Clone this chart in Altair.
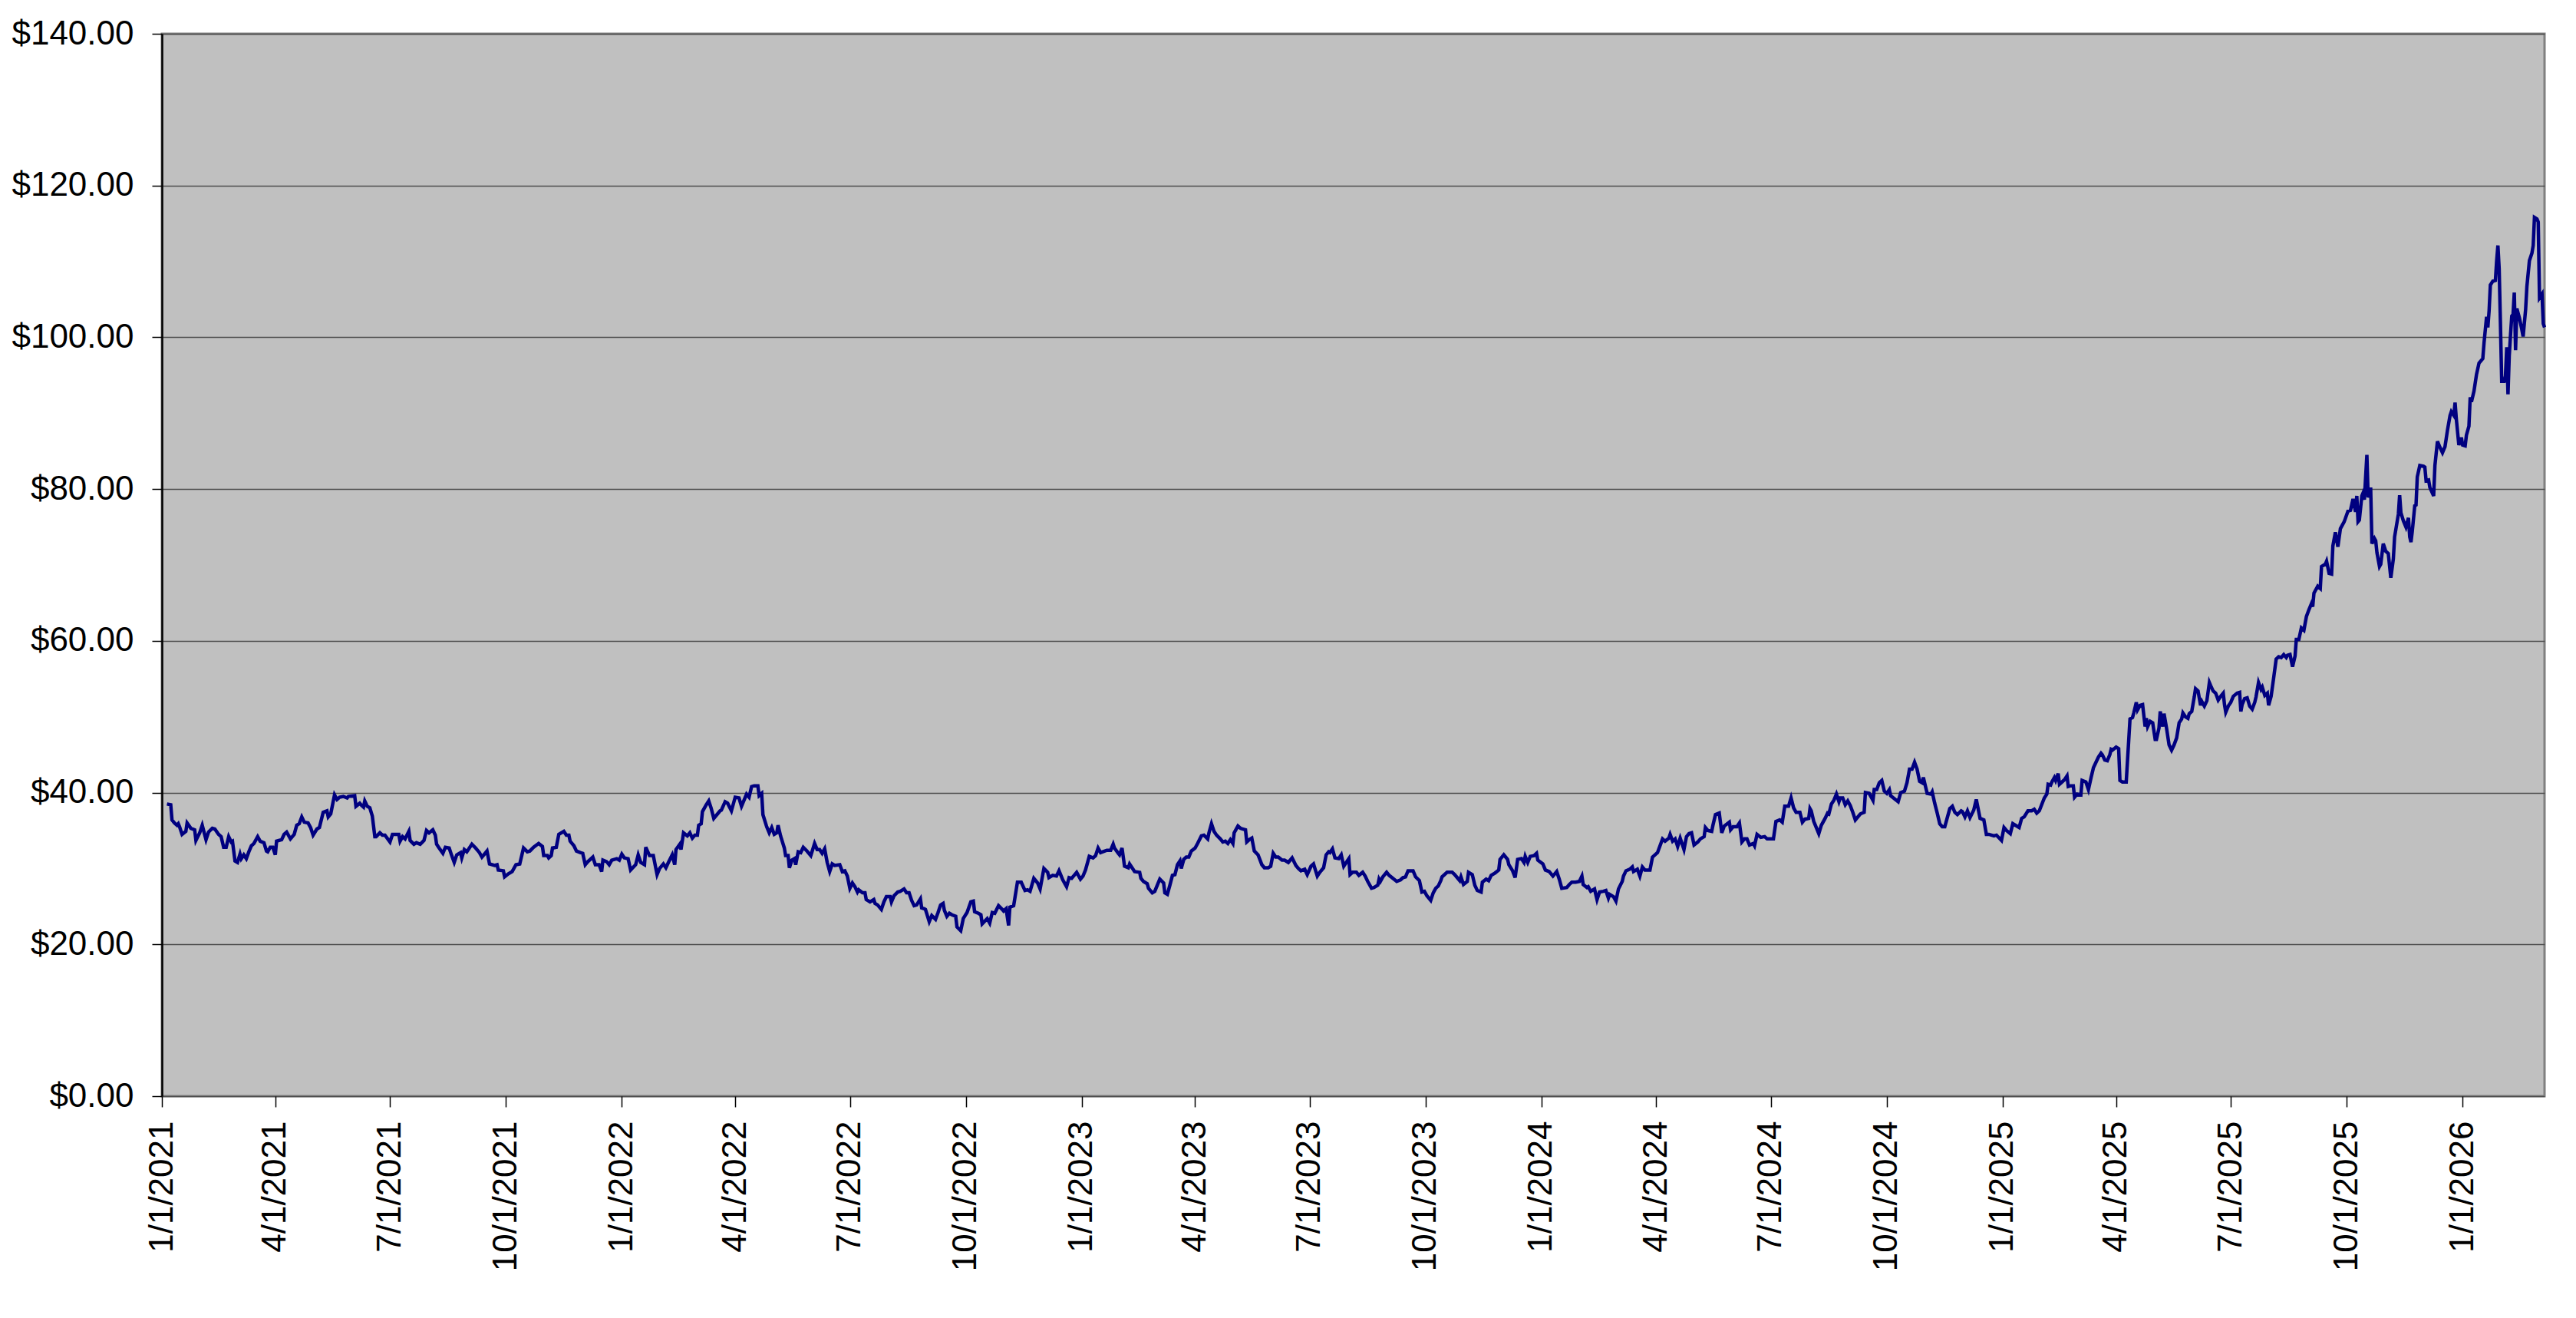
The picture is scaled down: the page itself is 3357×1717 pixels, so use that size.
import altair as alt
import pandas as pd

START = "2021-01-01"

# ---- data: trading day offsets (days since 1/1/2021) and closing prices ----
days_2021 = [4, 7, 8, 10, 12, 13, 14, 16, 19, 20, 23, 26, 27, 30, 32, 35, 37, 40, 42, 45, 47, 49, 51, 53, 55, 56,
             58, 60, 62, 63, 65, 67, 69, 71, 73, 76, 78, 81, 83, 84, 86, 88, 90, 91, 95, 97, 99, 102, 105, 107, 109,
             111, 113, 116, 118, 120, 123, 125, 128, 131, 132, 134, 137, 139, 141, 144, 147, 148, 153, 154, 157,
             158, 160, 161, 163, 165, 167, 169, 170, 173, 175, 177, 181, 183, 188, 189, 191, 193, 196, 197, 200,
             202, 205, 208, 210, 212, 215, 217, 218, 220, 223, 225, 228, 230, 232, 234, 237, 238, 240, 242, 244,
             246, 249, 252, 254, 258, 260, 264, 266, 267, 271, 272, 275, 278, 281, 284, 287, 290, 292, 295, 299,
             302, 303, 306, 307, 309, 310, 313, 315, 319, 321, 323, 324, 327, 329, 332, 334, 336, 338, 342, 344,
             347, 349, 350, 353, 355, 357, 361, 363, 365, 367, 370, 372]
prices_2021 = [38.5, 38.4, 36.4, 36.0, 35.7, 35.9, 35.5, 34.5, 34.9, 36.0, 35.3, 35.1, 33.7, 34.7, 35.7, 33.8, 34.8,
               35.3, 35.2, 34.5, 34.2, 32.8, 32.8, 34.2, 33.5, 33.6, 31.0, 30.8, 31.9, 31.3, 31.8, 31.3, 32.2, 33.0,
               33.3, 34.2, 33.6, 33.4, 32.3, 32.2, 32.8, 32.8, 31.8, 33.6, 33.8, 34.5, 34.8, 33.9, 34.5, 35.7, 35.9,
               36.8, 36.1, 36.0, 35.4, 34.4, 35.2, 35.4, 37.4, 37.6, 36.8, 37.2, 39.7, 39.1, 39.4, 39.5, 39.3, 39.5,
               39.6, 38.2, 38.6, 38.4, 38.1, 38.9, 38.2, 38.0, 36.9, 34.2, 34.2, 34.7, 34.4, 34.4, 33.5, 34.5, 34.5,
               33.6, 34.2, 33.9, 34.9, 33.7, 33.2, 33.4, 33.2, 33.7, 35.0, 34.7, 35.1, 34.4, 33.2, 32.7, 32.0, 32.8,
               32.7, 31.7, 30.8, 31.8, 32.1, 31.4, 32.5, 32.2, 32.7, 33.2, 32.7, 32.1, 31.5, 32.3, 30.6, 30.4, 30.5,
               29.8, 29.7, 28.9, 29.3, 29.6, 30.5, 30.6, 32.7, 32.2, 32.3, 32.8, 33.3, 32.9, 31.7, 31.7, 31.4, 31.7,
               32.7, 32.8, 34.5, 34.9, 34.4, 34.4, 33.6, 33.0, 32.3, 32.1, 32.0, 30.5, 30.9, 31.5, 30.5, 30.5, 29.6,
               31.1, 30.9, 30.5, 31.1, 31.3, 31.1, 31.9, 31.4, 31.3, 29.8]

days_2022 = [376, 378, 380, 383, 384, 387, 390, 393, 395, 398, 400, 402, 405, 407, 408, 411, 412, 414, 417, 419, 421,
             423, 425, 426, 428, 429, 432, 434, 436, 438, 441, 443, 444, 447, 449, 452, 455, 458, 460, 464, 466, 468,
             470, 473, 474, 476, 477, 480, 482, 484, 486, 488, 489, 491, 494, 495, 497, 498, 500, 502, 503, 505, 507,
             509, 512, 515, 518, 520, 522, 524, 526, 528, 530, 532, 534, 538, 540, 542, 544, 546, 548, 550, 552, 553,
             556, 558, 559, 562, 565, 566, 568, 571, 573, 575, 578, 579, 581, 584, 586, 589, 591, 593, 595, 597, 599,
             602, 603, 605, 606, 609, 611, 614, 616, 618, 620, 621, 623, 625, 627, 630, 631, 634, 636, 639, 642, 644,
             645, 648, 650, 651, 655, 657, 659, 661, 664, 667, 668, 670, 672, 673, 676, 679, 682, 685, 687, 689, 692,
             695, 697, 700, 703, 704, 707, 710, 712, 715, 718, 720, 722, 724, 726, 729, 731, 733, 735, 736, 739, 741,
             743, 745]
prices_2022 = [30.5, 31.8, 30.8, 30.5, 32.8, 31.7, 31.7, 29.2, 30.0, 30.6, 30.1, 30.8, 31.8, 30.5, 32.5, 33.2, 32.5,
               34.7, 34.3, 34.7, 34.0, 34.4, 34.4, 35.7, 35.9, 37.5, 38.4, 38.9, 37.9, 36.6, 37.2, 37.6, 37.7, 38.8,
               38.6, 37.6, 39.4, 39.3, 38.2, 39.8, 39.4, 40.8, 40.9, 40.9, 39.6, 39.9, 37.1, 35.5, 34.7, 35.4, 34.5,
               34.7, 35.7, 34.3, 32.7, 31.7, 31.7, 30.1, 31.1, 31.3, 30.5, 32.2, 32.1, 32.8, 32.3, 31.7, 33.3, 32.5,
               32.5, 32.0, 32.6, 30.8, 29.6, 30.6, 30.4, 30.5, 29.6, 29.7, 29.0, 27.4, 28.1, 27.6, 26.9, 27.2, 26.8,
               26.8, 25.9, 25.6, 25.9, 25.4, 25.2, 24.6, 25.6, 26.3, 26.3, 25.6, 26.4, 26.9, 27.0, 27.3, 26.8, 26.8,
               25.8, 25.1, 25.2, 26.0, 24.8, 24.7, 24.6, 23.0, 23.8, 23.3, 24.2, 25.2, 25.4, 24.5, 23.7, 24.1, 23.9,
               23.7, 22.3, 21.8, 23.4, 24.2, 25.6, 25.7, 24.3, 24.1, 23.9, 22.7, 23.4, 22.8, 24.2, 24.1, 25.1, 24.6,
               24.4, 24.7, 22.5, 24.9, 25.1, 28.2, 28.2, 27.1, 27.2, 27.0, 28.7, 28.1, 27.3, 30.0, 29.5, 28.8, 29.1,
               29.0, 29.7, 28.5, 27.6, 28.8, 28.7, 29.1, 29.5, 28.6, 29.0, 29.8, 31.0, 31.6, 31.4, 31.7, 32.7, 32.1]

days_2023 = [750, 753, 755, 756, 759, 760, 762, 764, 767, 768, 770, 772, 776, 777, 779, 782, 783, 786, 788, 791, 792,
             795, 796, 798, 800, 802, 804, 806, 808, 809, 811, 813, 815, 817, 820, 822, 825, 827, 830, 831, 833, 835,
             837, 840, 842, 844, 846, 848, 850, 851, 854, 856, 860, 861, 863, 865, 867, 870, 873, 875, 878, 880, 882,
             884, 886, 889, 891, 894, 897, 900, 902, 904, 907, 909, 912, 914, 917, 919, 922, 924, 926, 927, 929, 931,
             934, 936, 938, 940, 942, 943, 945, 948, 950, 953, 955, 957, 960, 962, 965, 966, 967, 969, 972, 974, 977,
             980, 983, 985, 987, 989, 993, 995, 998, 1000, 1002, 1004, 1007, 1009, 1011, 1013, 1015, 1016, 1020,
             1024, 1026, 1028, 1030, 1031, 1033, 1036, 1037, 1040, 1042, 1044, 1047, 1048, 1051, 1053, 1055, 1058,
             1061, 1062, 1065, 1068, 1069, 1072, 1074, 1076, 1079, 1081, 1082, 1084, 1086, 1089, 1091, 1092, 1096,
             1098, 1101, 1104, 1107, 1109, 1111, 1115, 1117, 1119]
prices_2023 = [32.4, 32.4, 33.2, 32.7, 32.0, 31.8, 32.7, 30.3, 30.1, 30.6, 30.1, 29.6, 29.5, 28.7, 28.3, 28.0, 27.4,
               26.8, 27.0, 28.2, 28.6, 28.1, 26.8, 26.6, 27.8, 29.1, 29.2, 30.5, 31.0, 30.0, 31.2, 31.5, 31.5, 32.3,
               32.7, 33.3, 34.3, 34.4, 33.9, 34.7, 35.9, 34.9, 34.4, 33.9, 33.5, 33.6, 33.3, 33.8, 33.3, 34.7, 35.6,
               35.3, 35.1, 33.5, 33.8, 34.0, 32.3, 31.8, 30.5, 30.1, 30.1, 30.3, 32.0, 31.5, 31.5, 31.1, 31.1, 30.8,
               31.4, 30.4, 30.0, 29.7, 29.9, 29.2, 30.3, 30.6, 29.0, 29.5, 30.1, 31.8, 32.2, 32.1, 32.6, 31.4, 31.3,
               31.8, 30.3, 30.8, 31.3, 29.2, 29.5, 29.5, 29.1, 29.5, 29.0, 28.3, 27.4, 27.5, 27.8, 28.6, 28.3, 28.9,
               29.5, 29.1, 28.7, 28.3, 28.5, 28.8, 28.9, 29.7, 29.7, 28.9, 28.4, 26.9, 27.0, 26.4, 25.8, 26.8, 27.4,
               27.7, 28.4, 28.9, 29.5, 29.5, 29.2, 28.8, 28.4, 28.9, 27.9, 28.3, 29.5, 29.2, 27.8, 27.1, 26.9, 28.2,
               28.6, 28.4, 29.1, 29.4, 29.8, 31.2, 31.8, 31.2, 30.5, 29.7, 28.8, 31.2, 31.3, 30.8, 31.6, 30.8, 31.6,
               31.7, 32.0, 31.1, 30.6, 29.8, 29.6, 29.0, 29.6, 28.6, 27.4, 27.5, 27.9, 28.2]

days_2024 = [1122, 1125, 1127, 1128, 1131, 1132, 1134, 1137, 1139, 1141, 1144, 1146, 1148, 1149, 1152, 1154, 1156,
             1159, 1160, 1162, 1165, 1167, 1168, 1171, 1173, 1175, 1177, 1181, 1183, 1185, 1187, 1189, 1191, 1193,
             1196, 1197, 1199, 1201, 1203, 1205, 1208, 1210, 1212, 1214, 1216, 1219, 1221, 1224, 1225, 1227, 1230,
             1231, 1233, 1236, 1238, 1240, 1244, 1245, 1247, 1250, 1252, 1254, 1256, 1258, 1260, 1263, 1264, 1266,
             1269, 1272, 1274, 1277, 1279, 1281, 1284, 1286, 1288, 1291, 1293, 1295, 1297, 1300, 1302, 1304, 1307,
             1308, 1309, 1311, 1315, 1317, 1320, 1322, 1323, 1325, 1327, 1329, 1331, 1332, 1334, 1336, 1338, 1340,
             1342, 1344, 1348, 1351, 1352, 1355, 1358, 1359, 1361, 1363, 1365, 1367, 1369, 1371, 1372, 1375, 1378,
             1380, 1383, 1385, 1387, 1389, 1391, 1393, 1395, 1397, 1398, 1399, 1401, 1404, 1405, 1407, 1409, 1411,
             1413, 1415, 1417, 1419, 1421, 1423, 1425, 1428, 1429, 1431, 1433, 1435, 1438, 1440, 1443, 1446, 1448,
             1450, 1454, 1456, 1460, 1462, 1464, 1467, 1469, 1474, 1476, 1478, 1481, 1484, 1486, 1488, 1490]
prices_2024 = [28.2, 28.3, 29.0, 27.9, 27.5, 27.6, 27.0, 27.3, 25.9, 26.9, 27.0, 27.1, 26.1, 26.6, 26.3, 25.7, 27.3,
               28.3, 29.0, 29.7, 29.9, 30.2, 29.6, 29.9, 29.0, 30.2, 29.8, 29.8, 31.5, 31.8, 32.1, 33.0, 33.9, 33.6,
               34.0, 34.5, 33.6, 33.9, 32.9, 34.0, 32.5, 34.2, 34.6, 34.7, 33.1, 33.5, 33.9, 34.2, 35.4, 35.0, 34.9,
               35.7, 37.1, 37.3, 34.7, 35.6, 36.1, 35.1, 35.5, 35.5, 36.0, 33.5, 33.9, 33.9, 33.1, 33.3, 33.0, 34.5,
               34.1, 34.2, 33.9, 33.9, 33.9, 36.2, 36.4, 36.1, 38.2, 38.2, 39.3, 38.0, 37.4, 37.4, 36.1, 36.5, 36.6,
               37.9, 37.6, 36.2, 34.6, 35.7, 36.6, 37.3, 37.2, 38.5, 39.0, 39.8, 38.8, 39.3, 39.3, 38.4, 38.9, 38.3,
               37.4, 36.4, 37.2, 37.4, 40.0, 39.9, 39.0, 40.4, 40.4, 41.3, 41.6, 40.2, 39.9, 40.4, 39.6, 39.2, 38.8,
               40.0, 40.2, 41.3, 43.1, 43.1, 44.0, 43.1, 41.5, 41.3, 42.0, 41.3, 39.9, 39.8, 40.1, 38.6, 37.3, 35.9,
               35.5, 35.5, 36.7, 37.9, 38.2, 37.4, 37.1, 37.6, 37.5, 36.8, 37.6, 36.7, 37.7, 39.1, 36.6, 36.4, 34.5,
               34.5, 34.3, 34.4, 33.7, 35.4, 35.0, 34.6, 35.9, 35.4, 36.6, 36.8, 37.6, 37.6, 37.8, 37.3, 37.6]

days_2025 = [1494, 1496, 1497, 1499, 1500, 1502, 1503, 1505, 1506, 1508, 1510, 1512, 1513, 1515, 1517, 1518, 1520,
             1523, 1524, 1527, 1529, 1531, 1533, 1535, 1537, 1539, 1540, 1542, 1544, 1546, 1547, 1548, 1551, 1553,
             1554, 1556, 1559, 1562, 1564, 1565, 1567, 1568, 1570, 1572, 1574, 1575, 1576, 1578, 1580, 1582, 1583,
             1585, 1586, 1588, 1589, 1591, 1593, 1595, 1597, 1599, 1601, 1603, 1604, 1606, 1608, 1609, 1611, 1613,
             1614, 1616, 1618, 1619, 1621, 1623, 1625, 1626, 1628, 1630, 1632, 1634, 1636, 1637, 1638, 1640, 1642,
             1644, 1647, 1649, 1650, 1651, 1653, 1655, 1657, 1659, 1661, 1662, 1664, 1666, 1667, 1669, 1671, 1672,
             1674, 1676, 1678, 1680, 1682, 1684, 1686, 1687, 1689, 1691, 1693]
prices_2025 = [39.3, 39.8, 41.1, 41.0, 41.4, 42.0, 41.6, 42.5, 41.1, 41.4, 41.7, 42.2, 40.8, 40.9, 40.9, 39.4, 39.8,
               39.7, 41.6, 41.4, 40.4, 41.9, 43.3, 44.0, 44.7, 45.2, 45.0, 44.3, 44.2, 45.0, 45.7, 45.6, 46.0, 45.8,
               41.6, 41.4, 41.4, 49.7, 49.9, 50.5, 51.9, 50.9, 51.5, 51.6, 48.7, 49.8, 48.7, 49.4, 49.2, 47.0, 47.0,
               48.5, 50.7, 48.7, 50.4, 48.5, 46.3, 45.6, 46.3, 47.2, 49.2, 49.7, 50.5, 50.0, 49.8, 50.4, 50.7, 52.6,
               53.7, 53.4, 51.5, 52.0, 51.4, 52.1, 54.5, 54.1, 53.4, 53.1, 52.2, 52.7, 53.1, 51.6, 50.6, 51.4, 51.9,
               52.7, 53.1, 53.2, 50.7, 51.6, 52.4, 52.5, 51.4, 51.0, 51.9, 52.6, 54.5, 53.6, 53.9, 52.8, 53.1, 51.5,
               52.7, 55.1, 57.6, 57.9, 57.8, 58.2, 57.8, 58.1, 58.2, 56.6, 58.0]

days_late = [1694, 1696, 1698, 1700, 1702, 1704, 1706, 1707, 1708, 1711, 1713, 1714, 1717, 1718, 1720, 1722, 1723,
             1725, 1727, 1729, 1732, 1735, 1737, 1739, 1741, 1742, 1743, 1744, 1746, 1747, 1748, 1750, 1751, 1752,
             1753, 1754, 1756, 1757, 1758, 1760, 1761, 1763, 1765, 1767, 1769, 1771, 1772, 1775, 1776, 1777, 1779,
             1781, 1783, 1784, 1785, 1786, 1788, 1789, 1790, 1792, 1795]
prices_late = [60.2, 60.2, 61.7, 61.4, 63.2, 64.1, 64.9, 64.5, 66.3, 67.2, 66.9, 69.8, 70.1, 70.5, 68.9, 68.8, 72.5,
               74.3, 72.4, 74.8, 75.7, 77.1, 77.2, 78.7, 77.0, 79.1, 75.7, 75.9, 79.1, 79.5, 78.6, 84.5, 78.9, 79.4,
               80.2, 72.8, 73.5, 73.2, 71.6, 69.8, 70.1, 72.8, 71.8, 71.5, 68.3, 70.8, 73.7, 76.7, 79.2, 76.9, 75.8,
               75.0, 76.2, 73.7, 73.0, 74.4, 77.8, 77.9, 81.6, 83.1, 83.0]

days_2026 = [1796, 1797, 1799, 1800, 1803, 1804, 1806, 1808, 1810, 1812, 1814, 1816, 1817, 1819, 1820, 1821, 1823,
             1825, 1826, 1828, 1829, 1831, 1832, 1833, 1835, 1837, 1839, 1842, 1843, 1844, 1845, 1846, 1847, 1848,
             1850, 1852, 1853, 1854, 1855, 1856, 1857, 1859, 1860, 1861, 1862, 1863, 1864, 1865, 1866, 1867, 1868,
             1869, 1871, 1873, 1874, 1876, 1877, 1879, 1881, 1882, 1883, 1885, 1886, 1887, 1889, 1890, 1891]
prices_2026 = [82.9, 81.1, 81.2, 80.2, 79.1, 83.1, 86.3, 85.5, 84.8, 85.6, 87.8, 89.7, 90.2, 89.7, 91.4, 89.2, 85.8,
               86.8, 85.8, 85.7, 87.1, 88.3, 92.1, 91.5, 92.9, 95.1, 96.6, 97.2, 99.3, 101.0, 102.7, 101.3, 103.5,
               106.9, 107.4, 107.5, 110.1, 112.1, 109.0, 101.8, 94.2, 94.2, 94.9, 98.7, 92.5, 97.6, 100.3, 102.8,
               103.0, 105.9, 98.3, 103.8, 102.6, 101.0, 100.1, 103.7, 106.7, 110.1, 111.1, 112.1, 115.8, 115.6,
               115.2, 105.2, 105.7, 101.8, 101.3]

# axis tick labels (quarter starts) and y ticks
quarter_ticks = [(2021, 1), (2021, 4), (2021, 7), (2021, 10), (2022, 1), (2022, 4), (2022, 7), (2022, 10),
                 (2023, 1), (2023, 4), (2023, 7), (2023, 10), (2024, 1), (2024, 4), (2024, 7), (2024, 10),
                 (2025, 1), (2025, 4), (2025, 7), (2025, 10), (2026, 1)]
y_ticks = [0, 20, 40, 60, 80, 100, 120, 140]

all_days = days_2021 + days_2022 + days_2023 + days_2024 + days_2025 + days_late + days_2026
all_prices = prices_2021 + prices_2022 + prices_2023 + prices_2024 + prices_2025 + prices_late + prices_2026

dates = pd.Timestamp(START) + pd.to_timedelta(all_days, unit="D")
df = pd.DataFrame({
    "date": [d.strftime("%Y-%m-%dT%H:%M:%S") for d in dates],
    "price": all_prices,
})

FONT = "Liberation Sans"

x_axis = alt.Axis(
    title=None,
    values=[alt.DateTime(year=y, month=m, date=1) for y, m in quarter_ticks],
    format="%-m/%-d/%Y",
    labelAngle=-90,
    labelAlign="right",
    labelBaseline="middle",
    labelFont=FONT,
    labelFontSize=44,
    labelColor="black",
    labelPadding=18,
    labelLimit=1000,
    labelFlush=False,
    labelOverlap=False,
    labelBound=False,
    tickColor="black",
    tickSize=14,
    tickWidth=1.5,
    domain=False,
    grid=False,
)

y_axis = alt.Axis(
    title=None,
    values=y_ticks,
    format="$.2f",
    labelFont=FONT,
    labelFontSize=44,
    labelColor="black",
    labelPadding=24,
    labelLimit=1000,
    labelFlush=False,
    labelOverlap=False,
    tickColor="black",
    tickSize=13,
    tickWidth=1.5,
    domain=True,
    domainColor="black",
    domainWidth=2.5,
    grid=True,
    gridColor="#4d4d4d",
    gridWidth=1.5,
)

chart = alt.Chart(df).mark_line(color="#000080", strokeWidth=4.5, strokeJoin="miter").encode(
    x=alt.X("date:T", axis=x_axis,
            scale=alt.Scale(domain=[alt.DateTime(year=2021, month=1, date=1),
                                    alt.DateTime(year=2026, month=3, date=7)], nice=False)),
    y=alt.Y("price:Q", axis=y_axis, scale=alt.Scale(domain=[0, 140], nice=False, zero=True)),
).properties(
    width=3105,
    height=1384,
    autosize=alt.AutoSizeParams(type="none"),
    padding={"left": 203, "top": 36, "right": 30, "bottom": 270},
    background="white",
).configure_view(
    fill="#C0C0C0",
    stroke="#808080",
    strokeWidth=3,
)

chart.save("out.html", embed_options={"renderer": "svg", "actions": False})
